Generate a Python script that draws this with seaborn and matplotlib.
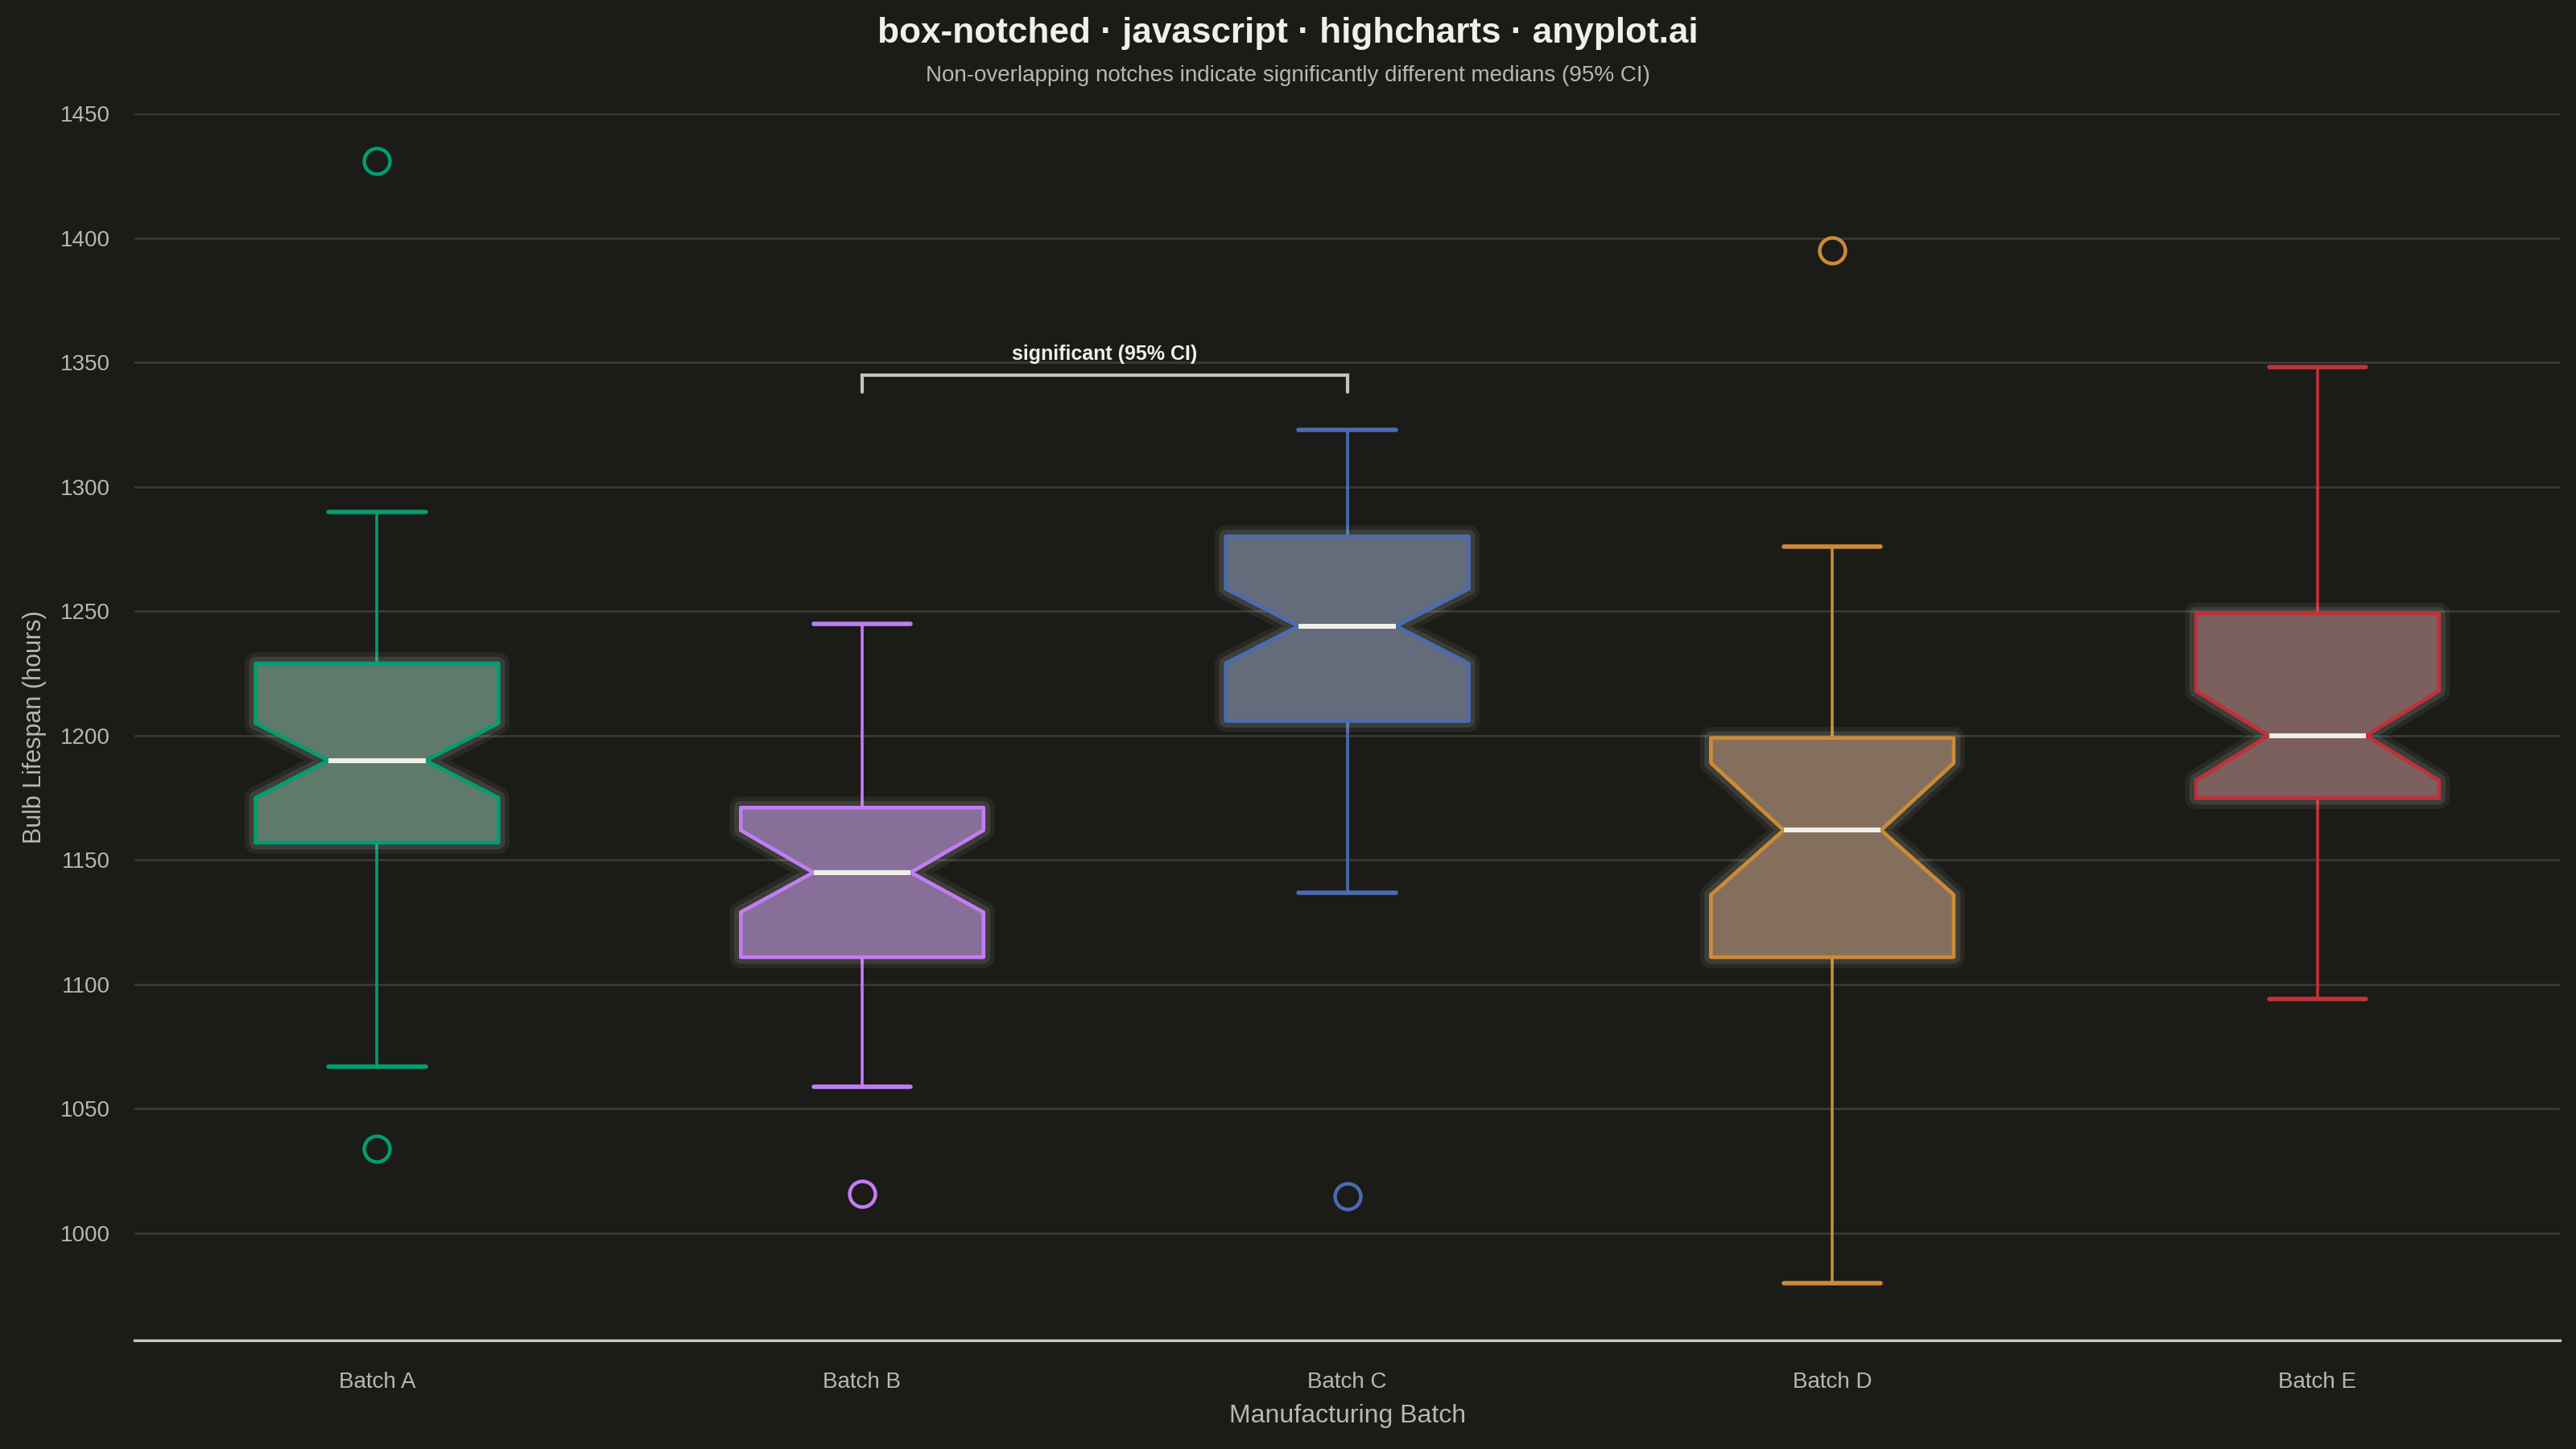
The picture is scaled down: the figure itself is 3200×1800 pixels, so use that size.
import matplotlib
matplotlib.use("Agg")
import matplotlib.pyplot as plt
import matplotlib.patheffects as pe
from matplotlib.patches import Polygon
import seaborn as sns

# ---- data ----
categories = ["Batch A", "Batch B", "Batch C", "Batch D", "Batch E"]
q1 = [1157, 1111, 1206, 1111, 1175]
medians = [1190, 1145, 1244, 1162, 1200]
q3 = [1229, 1171, 1280, 1199, 1249]
notch_lo = [1175, 1129, 1229, 1136, 1182]
notch_hi = [1205, 1162, 1259, 1189, 1218]
whisker_lo = [1067, 1059, 1137, 980, 1094]
whisker_hi = [1290, 1245, 1323, 1276, 1348]
outliers = [[1431, 1034], [1016], [1015], [1395], []]
y_ticks = [1000, 1050, 1100, 1150, 1200, 1250, 1300, 1350, 1400, 1450]
bracket_pair = (1, 2)
bracket_y = 1345
bracket_drop = 7
bracket_label = "significant (95% CI)"

# ---- styles ----
BG = "#1b1b17"
edge_colors = ["#009E73", "#C27CF5", "#4A6BAF", "#CC8A38", "#C0313A"]
fill_colors = ["#5f7a6a", "#876f99", "#646b7a", "#846f5c", "#7b605e"]
TEXT = "#f0efe8"
MUTED = "#b8b8b0"
GRID = "#3a3a35"
BOX_W = 0.5
NOTCH_FRAC = 0.4   # median line length as fraction of box width

sns.set_theme(style="dark", rc={
    "figure.facecolor": BG, "axes.facecolor": BG, "savefig.facecolor": BG,
    "axes.edgecolor": BG, "grid.color": GRID, "text.color": TEXT,
    "axes.labelcolor": MUTED, "xtick.color": MUTED, "ytick.color": MUTED,
})
plt.rcParams["font.family"] = ["Liberation Sans", "DejaVu Sans"]

fig = plt.figure(figsize=(16, 9), dpi=200)
ax = fig.add_axes([0.0522, 0.075, 0.9416, 0.8467])

stats = []
for i, name in enumerate(categories):
    stats.append(dict(label=name, med=medians[i], q1=q1[i], q3=q3[i],
                      whislo=whisker_lo[i], whishi=whisker_hi[i],
                      fliers=outliers[i]))
positions = list(range(len(categories)))
res = ax.bxp(stats, positions=positions, widths=BOX_W, capwidths=0.2,
             showbox=False, showfliers=True, manage_ticks=False,
             medianprops=dict(visible=False))

glow = [pe.withStroke(linewidth=10, foreground="#e0e0d8", alpha=0.07),
        pe.withStroke(linewidth=6, foreground="#e0e0d8", alpha=0.12)]

for i in range(len(categories)):
    p = positions[i]
    L, R = p - BOX_W / 2, p + BOX_W / 2
    nw = BOX_W * NOTCH_FRAC / 2
    verts = [(L, q1[i]), (R, q1[i]), (R, notch_lo[i]), (p + nw, medians[i]),
             (R, notch_hi[i]), (R, q3[i]), (L, q3[i]), (L, notch_hi[i]),
             (p - nw, medians[i]), (L, notch_lo[i])]
    poly = Polygon(verts, closed=True, facecolor=fill_colors[i], edgecolor=edge_colors[i],
                   linewidth=1.6, joinstyle="round", zorder=3)
    poly.set_path_effects(glow + [pe.Normal()])
    ax.add_patch(poly)
    ax.hlines(medians[i], p - nw, p + nw, color=TEXT, linewidth=2.2, zorder=4)
    for w in res["whiskers"][2 * i:2 * i + 2]:
        w.set_color(edge_colors[i]); w.set_linewidth(1.3); w.set_zorder(2)
    for c in res["caps"][2 * i:2 * i + 2]:
        c.set_color(edge_colors[i]); c.set_linewidth(2.0)
    f = res["fliers"][i]
    f.set_marker("o"); f.set_markerfacecolor("none")
    f.set_markeredgecolor(edge_colors[i]); f.set_markeredgewidth(1.6)
    f.set_markersize(11.5)

# significance bracket
xa, xb = bracket_pair
ax.plot([xa, xa, xb, xb], [bracket_y - bracket_drop, bracket_y, bracket_y, bracket_y - bracket_drop],
        color="#c4c4bc", linewidth=1.5, solid_joinstyle="miter")
ax.text((xa + xb) / 2, bracket_y + 4.5, bracket_label, ha="center", va="bottom",
        fontsize=9, fontweight="bold", color=TEXT)

ax.set_xlim(-0.5, len(categories) - 0.5)
ax.set_ylim(957, 1450)
ax.set_yticks(y_ticks)
ax.set_yticklabels([str(v) for v in y_ticks], fontsize=10, color=MUTED)
ax.set_xticks(positions)
ax.set_xticklabels(categories, fontsize=10, color=MUTED)
ax.tick_params(axis="x", length=0, pad=14)
ax.tick_params(axis="y", length=0, pad=11)
ax.yaxis.grid(True, color=GRID, linewidth=1.0)
ax.xaxis.grid(False)
for s in ["top", "right", "left"]:
    ax.spines[s].set_visible(False)
ax.spines["bottom"].set_color("#c8c8c0")
ax.spines["bottom"].set_linewidth(1.2)

ax.set_xlabel("Manufacturing Batch", fontsize=11.5, color=MUTED, labelpad=5)
ax.set_ylabel("Bulb Lifespan (hours)", fontsize=11, color=MUTED, ha="center", va="center")
ax.yaxis.set_label_coords(-0.0412, 0.5)

fig.text(0.5, 0.977, "box-notched · javascript · highcharts · anyplot.ai",
         ha="center", va="center", fontsize=15.9, fontweight="bold", color=TEXT)
fig.text(0.5, 0.948, "Non-overlapping notches indicate significantly different medians (95% CI)",
         ha="center", va="center", fontsize=10, color=MUTED)

fig.savefig("out.png", dpi=200, facecolor=BG)
